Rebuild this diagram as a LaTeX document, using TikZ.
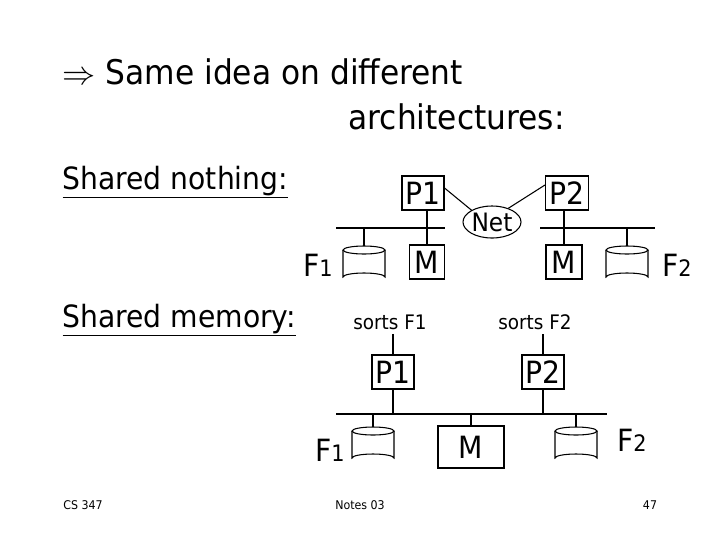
\documentclass[tikz,border=0pt]{standalone}
\usepackage{fontspec}
\setmainfont{DejaVu Sans}[FakeStretch=0.92]
\usetikzlibrary{shapes.geometric}
\begin{document}
\begin{tikzpicture}[x=0.75pt,y=-0.75pt,line width=0.8pt,
  box/.style={draw,minimum width=#1*0.75pt,minimum height=34*0.75pt,inner sep=0pt,font=\fontsize{23}{24}\selectfont},
  lbl/.style={inner sep=0pt,font=\fontsize{23}{24}\selectfont},
  big/.style={inner sep=0pt,anchor=west,font=\fontsize{23}{26}\selectfont},
  title/.style={inner sep=0pt,anchor=west,font=\fontsize{25.5}{28}\selectfont},
  small/.style={inner sep=0pt,font=\fontsize{15}{16}\selectfont},
  foot/.style={inner sep=0pt,font=\fontsize{9}{11}\selectfont}]
\useasboundingbox (0,0) rectangle (720,540);
\newcommand{\disk}[3]{% name, cx, top y
  \coordinate (#1) at (#2,#3);
  \draw (#2-21,#3+4) -- (#2-21,#3+31) arc[start angle=180,end angle=360,x radius=21,y radius=4] -- (#2+21,#3+4);
  \draw (#2,#3+4) ellipse[x radius=21,y radius=4];
}
\node[title] (t1) at (62,72) {$\Rightarrow$ Same idea on different};
\node[title] (t2) at (348,117) {architectures:};
\node[big] (sn) at (62,182) {\underline{Shared nothing:}};
\node[big] (sm) at (62,320) {\underline{Shared memory:}};
% shared nothing
\node[box=42] (p1) at (423,193) {P1};
\node[box=43] (p2) at (567,193) {P2};
\node[draw,ellipse,minimum width=58*0.75pt,minimum height=32*0.75pt,inner sep=0pt,font=\fontsize{19}{20}\selectfont] (net) at (492,222) {Net};
\draw (p1.east|-0,188) -- (net.150);
\draw (p2.west|-0,185) -- (net.40);
\coordinate (b1l) at (336,228); \coordinate (b1r) at (445,228);
\coordinate (b2l) at (540,228); \coordinate (b2r) at (655,228);
\draw (b1l) -- (b1r); \draw (b2l) -- (b2r);
\node[box=35] (m1) at (427,262) {M};
\node[box=36] (m2) at (564,262) {M};
\draw (p1.south-|m1) -- (m1.north);
\draw (p2.south-|m2) -- (m2.north);
\disk{d1}{364}{246}\draw (d1) -- (364,228);
\disk{d2}{627}{246}\draw (d2) -- (627,228);
\node[lbl] (f1) at (318,265) {F\fontsize{17}{18}\selectfont 1};
\node[lbl] (f2) at (677,265) {F\fontsize{17}{18}\selectfont 2};
% shared memory
\node[small] (s1) at (390,322) {sorts F1};
\node[small] (s2) at (535,322) {sorts F2};
\node[box=42] (q1) at (393,372) {P1};
\node[box=42] (q2) at (543,372) {P2};
\draw (s1.south-|q1)++(0,4) -- (q1.north);
\draw (s2.south-|q2)++(0,4) -- (q2.north);
\coordinate (bl) at (336,414); \coordinate (br) at (607,414);
\draw (bl) -- (br);
\draw (q1.south) -- (q1.south|-bl);
\draw (q2.south) -- (q2.south|-bl);
\node[box=66,minimum height=42*0.75pt] (mm) at (471,447) {M};
\draw (mm.north) -- (mm.north|-bl);
\disk{e1}{373}{427}\draw (e1) -- (373,414);
\disk{e2}{576}{427}\draw (e2) -- (576,414);
\node[lbl] (g1) at (330,450) {F\fontsize{17}{18}\selectfont 1};
\node[lbl] (g2) at (632,440) {F\fontsize{17}{18}\selectfont 2};
% footer
\node[foot] (c1) at (83,505) {CS 347};
\node[foot] (c2) at (360,505) {Notes 03};
\node[foot] (c3) at (650,505) {47};
\end{tikzpicture}
\end{document}
